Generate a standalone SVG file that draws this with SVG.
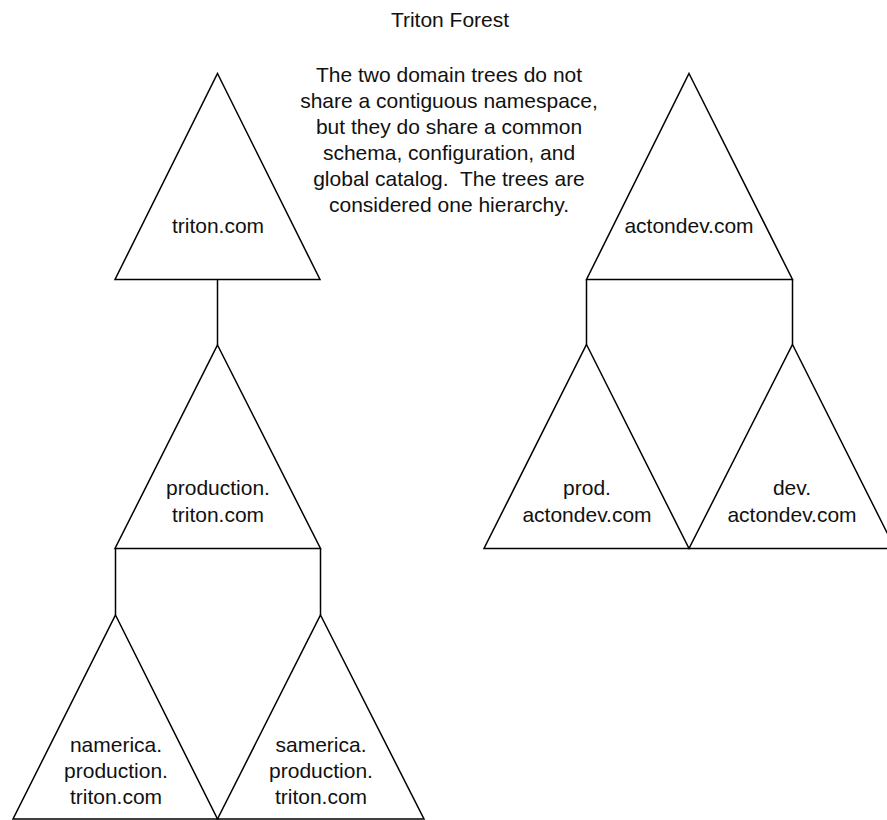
<svg xmlns="http://www.w3.org/2000/svg" width="887" height="820" viewBox="0 0 887 820">
  <style>
    .tri { fill: #fff; stroke: #000; stroke-width: 1.5; stroke-linejoin: miter; }
    .link { fill: none; stroke: #000; stroke-width: 1.5; }
    text { font-family: "Liberation Sans", Arial, sans-serif; font-size: 21px; fill: #111; text-anchor: middle; }
  </style>
  <rect width="887" height="820" fill="#fff"/>

  <!-- title and note -->
  <g id="title">
    <text x="450" y="26.5">Triton Forest</text>
  </g>
  <g id="note">
    <text x="449" y="81.5">The two domain trees do not</text>
    <text x="449" y="107.5">share a contiguous namespace,</text>
    <text x="449" y="133.5">but they do share a common</text>
    <text x="449" y="159.5">schema, configuration, and</text>
    <text x="449" y="185.5" xml:space="preserve">global catalog.  The trees are</text>
    <text x="449" y="211.5">considered one hierarchy.</text>
  </g>

  <!-- tree links -->
  <g id="connectors">
    <path class="link" d="M217.5 279.5 V345"/>
    <path class="link" d="M115.5 548.5 V615 M320.5 548.5 V615"/>
    <path class="link" d="M586.5 279.5 V344.5 M792.5 279.5 V344.5"/>
  </g>

  <!-- triton.com tree -->
  <g id="triton-com">
    <polygon class="tri" points="217.5,73.5 320,279.5 115,279.5"/>
    <text x="218" y="233">triton.com</text>
  </g>
  <g id="production-triton-com">
    <polygon class="tri" points="217.5,345 320.5,548.5 115,548.5"/>
    <text x="218" y="495">production.</text>
    <text x="218" y="521.5">triton.com</text>
  </g>
  <g id="namerica-production-triton-com">
    <polygon class="tri" points="115.5,615 217.5,819 13,819"/>
    <text x="116" y="752">namerica.</text>
    <text x="116" y="778">production.</text>
    <text x="116" y="804">triton.com</text>
  </g>
  <g id="samerica-production-triton-com">
    <polygon class="tri" points="320.5,615 424,819 217.5,819"/>
    <text x="321" y="752">samerica.</text>
    <text x="321" y="778">production.</text>
    <text x="321" y="804">triton.com</text>
  </g>

  <!-- actondev.com tree -->
  <g id="actondev-com">
    <polygon class="tri" points="689,73.5 792.5,279.5 586.5,279.5"/>
    <text x="689" y="233">actondev.com</text>
  </g>
  <g id="prod-actondev-com">
    <polygon class="tri" points="586.5,344.5 689,548.5 484,548.5"/>
    <text x="587" y="495">prod.</text>
    <text x="587" y="521.5">actondev.com</text>
  </g>
  <g id="dev-actondev-com">
    <polygon class="tri" points="792.5,344.5 895,548.5 689,548.5"/>
    <text x="792" y="495">dev.</text>
    <text x="792" y="521.5">actondev.com</text>
  </g>
</svg>
